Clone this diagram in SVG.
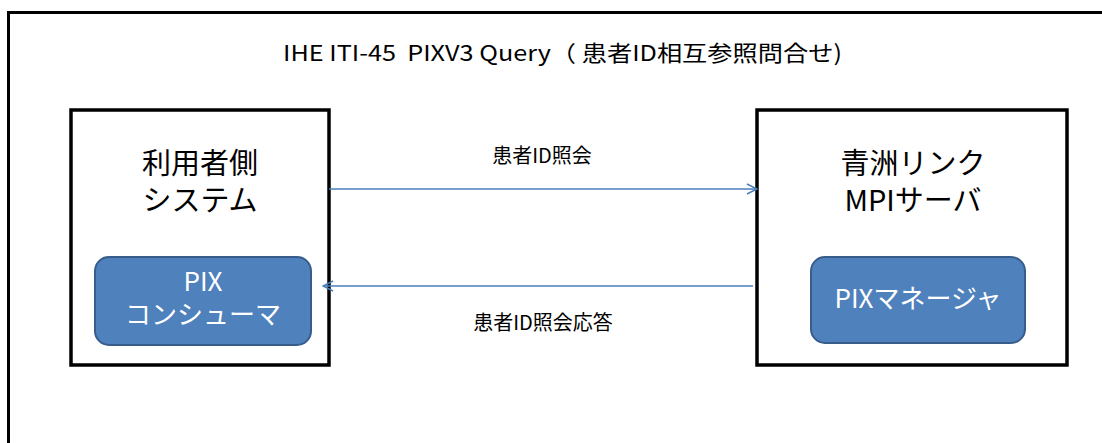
<svg xmlns="http://www.w3.org/2000/svg" width="1102" height="443" viewBox="0 0 1102 443">
<defs>
<marker id="arr" viewBox="0 0 12 12" refX="11" refY="6" markerWidth="12" markerHeight="12" markerUnits="userSpaceOnUse" orient="auto">
<path d="M1,1 L11,6 L1,11" fill="none" stroke="#4A7EBB" stroke-width="1.5"/>
</marker>
</defs>
<style>
text{font-family:"Noto Sans CJK JP","Noto Sans",sans-serif;text-anchor:middle}
.box{fill:#fff;stroke:#000;stroke-width:3.5}
.inner{fill:#4F81BD;stroke:#385D8A;stroke-width:2}
.big{font-size:29px;fill:#000}
.wt{font-size:26px;fill:#fff}
.lbl{font-size:20px;fill:#000}
.conn{stroke:#4A7EBB;stroke-width:1.5;fill:none;marker-end:url(#arr)}
</style>
<rect width="1102" height="443" fill="#fff"/>
<path d="M8.5,445 V12.5 H1105" fill="none" stroke="#000" stroke-width="3"/>
<text x="283" y="61" xml:space="preserve" textLength="559" lengthAdjust="spacingAndGlyphs" style="font-size:22px;fill:#000;text-anchor:start">IHE ITI-45  PIXV3 Query（ 患者ID相互参照問合せ)</text>
<g id="consumer-system">
<rect class="box" x="71" y="110" width="258" height="255"/>
<text class="big"><tspan x="200" y="174">利用者側</tspan><tspan x="200" y="211">システム</tspan></text>
</g>
<g id="pix-consumer">
<rect class="inner" x="95" y="257" width="216" height="88" rx="14"/>
<text class="wt"><tspan x="203" y="291">PIX</tspan><tspan x="203" y="324">コンシューマ</tspan></text>
</g>
<g id="mpi-server">
<rect class="box" x="757" y="110" width="310" height="255"/>
<text class="big"><tspan x="913" y="174">青洲リンク</tspan><tspan x="913" y="211">MPIサーバ</tspan></text>
</g>
<g id="pix-manager">
<rect class="inner" x="811" y="257" width="214" height="86" rx="14"/>
<text class="wt" x="918" y="308">PIXマネージャ</text>
</g>
<g id="connectors">
<line class="conn" x1="329" y1="189" x2="757" y2="189"/>
<line class="conn" x1="753" y1="286" x2="323" y2="286"/>
<text class="lbl" x="542" y="163">患者ID照会</text>
<text class="lbl" x="543" y="330">患者ID照会応答</text>
</g>
</svg>
